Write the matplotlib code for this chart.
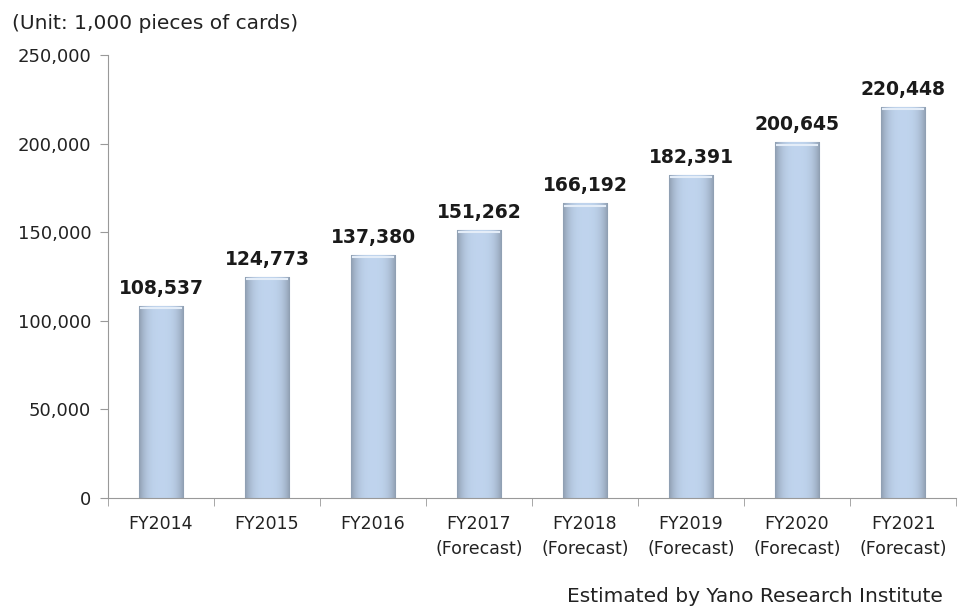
import matplotlib
matplotlib.use("Agg")
import matplotlib.pyplot as plt
import numpy as np

years = ["FY2014", "FY2015", "FY2016", "FY2017\n(Forecast)", "FY2018\n(Forecast)",
         "FY2019\n(Forecast)", "FY2020\n(Forecast)", "FY2021\n(Forecast)"]
values = [108537, 124773, 137380, 151262, 166192, 182391, 200645, 220448]

plt.rcParams['font.family'] = ['DejaVu Sans']

fig = plt.figure(figsize=(9.58, 6.08), dpi=100)
ax = fig.add_axes([0.1127, 0.181, 0.8853, 0.7286])

x = np.arange(len(values))
w = 0.42
bars = ax.bar(x, values, width=w, color='#bed2ec', edgecolor='#9fb5d3', linewidth=0.8, zorder=2)

# soft bevel: horizontal gradient on each bar
grad = np.linspace(0, 1, 64)
shade = 1 - 0.25 * (np.abs(grad - 0.5) * 2) ** 3
img = np.zeros((1, 64, 4))
img[..., 0] = 0.75 * shade
img[..., 1] = 0.83 * shade
img[..., 2] = 0.93 * shade
img[..., 3] = 1
for b in bars:
    im = ax.imshow(img, extent=[b.get_x(), b.get_x() + b.get_width(), 0, b.get_height()],
                   aspect='auto', zorder=2.5)
    im.set_clip_path(b)
    ax.plot([b.get_x() + 0.02, b.get_x() + b.get_width() - 0.02],
            [b.get_height() - 1200] * 2, color='#e4edf8', lw=1.5, zorder=3)

for xi, v in zip(x, values):
    ax.text(xi, v + 4500, f"{v:,}", ha='center', va='bottom', fontsize=13.5,
            fontweight='bold', color='#1a1a1a')

ax.set_xlim(-0.5, len(values) - 0.5)
ax.set_ylim(0, 250000)
ax.set_yticks(range(0, 250001, 50000))
ax.set_yticklabels([f"{t:,}" for t in range(0, 250001, 50000)], fontsize=13, color='#222222')
ax.set_xticks(x)
ax.set_xticklabels(years, fontsize=12.5, color='#222222', linespacing=1.5)
ax.set_xticks(np.arange(-0.5, len(values), 1), minor=True)
ax.tick_params(axis='x', which='major', length=0, pad=12)
ax.tick_params(axis='x', which='minor', length=6, color='#999999')
ax.tick_params(axis='y', length=6, color='#999999', pad=6)

for s in ['top', 'right']:
    ax.spines[s].set_visible(False)
for s in ['left', 'bottom']:
    ax.spines[s].set_color('#999999')

fig.text(0.013, 0.962, "(Unit: 1,000 pieces of cards)", fontsize=14.5, color='#222222', va='center')
fig.text(0.984, 0.019, "Estimated by Yano Research Institute", fontsize=14.5, color='#222222',
         ha='right', va='center')

fig.savefig("out.png", dpi=100)
